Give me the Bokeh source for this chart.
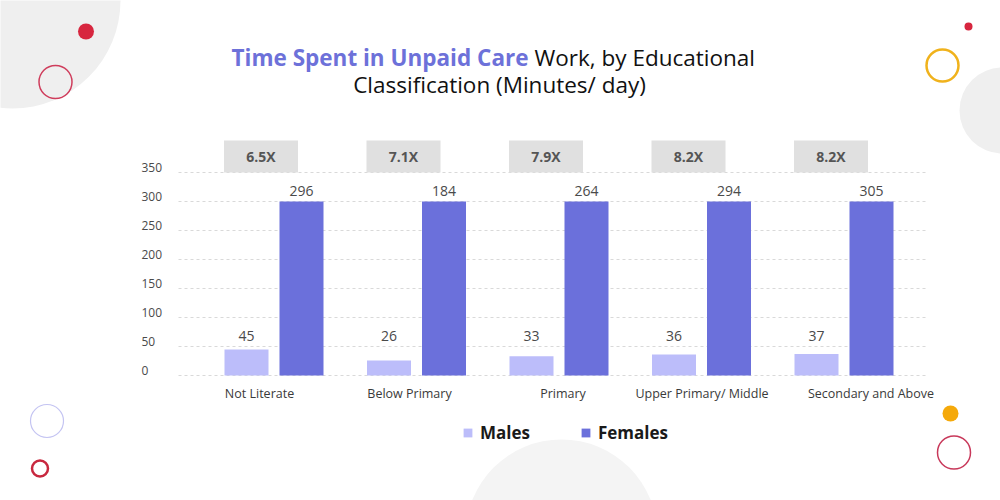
from bokeh.plotting import figure
from bokeh.models import Range1d, ColumnDataSource, Legend, LegendItem
from bokeh.core.properties import value
from bokeh.transform import dodge
from bokeh.embed import file_html
from bokeh.resources import INLINE

# ---------------- data ----------------
categories = ["Not Literate", "Below Primary", "Primary",
              "Upper Primary/ Middle", "Secondary and Above"]
males = [45, 26, 33, 36, 37]
females = [296, 184, 264, 294, 305]               # printed values
females_drawn = [300, 300, 300, 300, 300]         # bar heights as drawn in the source picture
ratios = ["6.5X", "7.1X", "7.9X", "8.2X", "8.2X"]
y_ticks = [0, 50, 100, 150, 200, 250, 300, 350]

# ---------------- layout (pixel geometry of the canvas) ----------------
W, H = 1000, 500
X0_PX, DX_PX = 273.5, 142.5      # centre of first category, category pitch
Y0_PX, KY = 375.0, 0.58          # pixel row of value 0, pixels per unit

def xu(px):
    return (px - X0_PX) / DX_PX

def yu(py):
    return (Y0_PX - py) / KY

FONT = "Open Sans"
MALE_C = "#bcbdfa"
FEMALE_C = "#6b70db"
TEXT_C = "#4a4a4a"

idx = list(range(len(categories)))
src = ColumnDataSource(dict(
    x=idx, cat=categories, males=males, females=females,
    females_drawn=females_drawn, ratio=ratios,
    m_lbl=[str(v) for v in males], f_lbl=[str(v) for v in females],
))

p = figure(width=W, height=H, x_range=Range1d(xu(0), xu(W)),
           y_range=Range1d(yu(H), yu(0)), x_axis_type=None, y_axis_type=None,
           toolbar_location=None, output_backend="svg", min_border=0,
           outline_line_color=None, background_fill_color="white",
           border_fill_color="white")
p.grid.visible = False

# ---------------- decorative background shapes ----------------
def deco(cx, cy, d, fill=None, line=None, lw=1.0):
    p.scatter(x=[xu(cx)], y=[yu(cy)], size=d, marker="circle",
              fill_color=fill, fill_alpha=1 if fill else 0,
              line_color=line, line_alpha=1 if line else 0, line_width=lw)

deco(12, 0, 216, fill="#efefef")
deco(1002, 110, 86, fill="#efefef")
deco(561, 535, 192, fill="#f4f4f4")
deco(85.5, 31, 16, fill="#d7263f")
deco(55, 81.5, 33, line="#cf3d5c", lw=1.5)
deco(968, 26, 8, fill="#d7263f")
deco(942, 65, 32, line="#f0b21c", lw=2.5)
deco(46.5, 420.5, 33, line="#c4c4f2", lw=1.2)
deco(39.5, 468, 16, line="#c8283f", lw=2.5)
deco(950, 413, 16, fill="#f5a90a")
deco(953.5, 452, 33, line="#c8385a", lw=1.5)

# ---------------- gridlines & y tick labels ----------------
gx0, gx1 = xu(178), xu(927)
p.segment(x0=[gx0] * len(y_ticks), y0=y_ticks, x1=[gx1] * len(y_ticks), y1=y_ticks,
          line_color="#d9d9d9", line_width=1, line_dash="3 3")
p.text(x=[xu(141)] * len(y_ticks), y=y_ticks, text=[str(t) for t in y_ticks],
       text_align="left", text_baseline="middle", y_offset=-5,
       text_font=value(FONT), text_font_size="12px", text_color=TEXT_C)

# ---------------- bars ----------------
off = 27.5 / DX_PX
bw = 44 / DX_PX
rm = p.vbar(x=dodge("x", -off, range=p.x_range), top="males", width=bw, bottom=0,
            source=src, fill_color=MALE_C, line_color=None)
rf = p.vbar(x=dodge("x", off, range=p.x_range), top="females_drawn", width=bw, bottom=0,
            source=src, fill_color=FEMALE_C, line_color=None)

# value labels
p.text(x=dodge("x", -off, range=p.x_range), y=yu(335.5), text="m_lbl", source=src,
       text_align="center", text_baseline="middle",
       text_font=value(FONT), text_font_size="14px", text_color=TEXT_C)
p.text(x=dodge("x", off, range=p.x_range), y=yu(190), text="f_lbl", source=src,
       text_align="center", text_baseline="middle",
       text_font=value(FONT), text_font_size="14px", text_color=TEXT_C)

# ratio boxes
box_off = -13 / DX_PX
p.rect(x=dodge("x", box_off, range=p.x_range), y=(yu(140) + yu(172)) / 2,
       width=74 / DX_PX, height=yu(140) - yu(172), source=src,
       fill_color="#e0e0e0", line_color=None)
p.text(x=dodge("x", box_off, range=p.x_range), y=yu(156), text="ratio", source=src,
       text_align="center", text_baseline="middle",
       text_font=value(FONT), text_font_size="14px", text_font_style="bold",
       text_color="#555555")

# category labels
src.data["cat_dx"] = [-14.5, -7, 4, 0.5, 27]
p.text(x="x", y=yu(393), text="cat", source=src, x_offset="cat_dx",
       text_align="center", text_baseline="middle",
       text_font=value(FONT), text_font_size="12.5px", text_color="#3a3a3a")

# ---------------- title ----------------
p.text(x=[xu(528)], y=[yu(56.5)], text=["Time Spent in Unpaid Care"],
       text_align="right", text_baseline="middle",
       text_font=value(FONT), text_font_size="22.5px", text_font_style="bold",
       text_color="#6d71d9")
p.text(x=[xu(534)], y=[yu(56.5)], text=["Work, by Educational"],
       text_align="left", text_baseline="middle",
       text_font=value(FONT), text_font_size="22.5px", text_color="#111111")
p.text(x=[xu(499)], y=[yu(83.5)], text=["Classification (Minutes/ day)"],
       text_align="center", text_baseline="middle",
       text_font=value(FONT), text_font_size="22.5px", text_color="#111111")

# ---------------- legend ----------------
legend = Legend(items=[LegendItem(label="Males", renderers=[rm]),
                       LegendItem(label="Females", renderers=[rf])],
                orientation="horizontal", location=(462, 56),
                glyph_width=11, glyph_height=11, label_standoff=7, spacing=50,
                padding=0, margin=0, border_line_color=None,
                background_fill_alpha=0, label_text_font=FONT,
                label_text_font_size="17px", label_text_font_style="bold",
                label_text_color="#1a1a1a", label_height=20)
p.add_layout(legend, "center")

open("out.html", "w").write(file_html(p, INLINE))
